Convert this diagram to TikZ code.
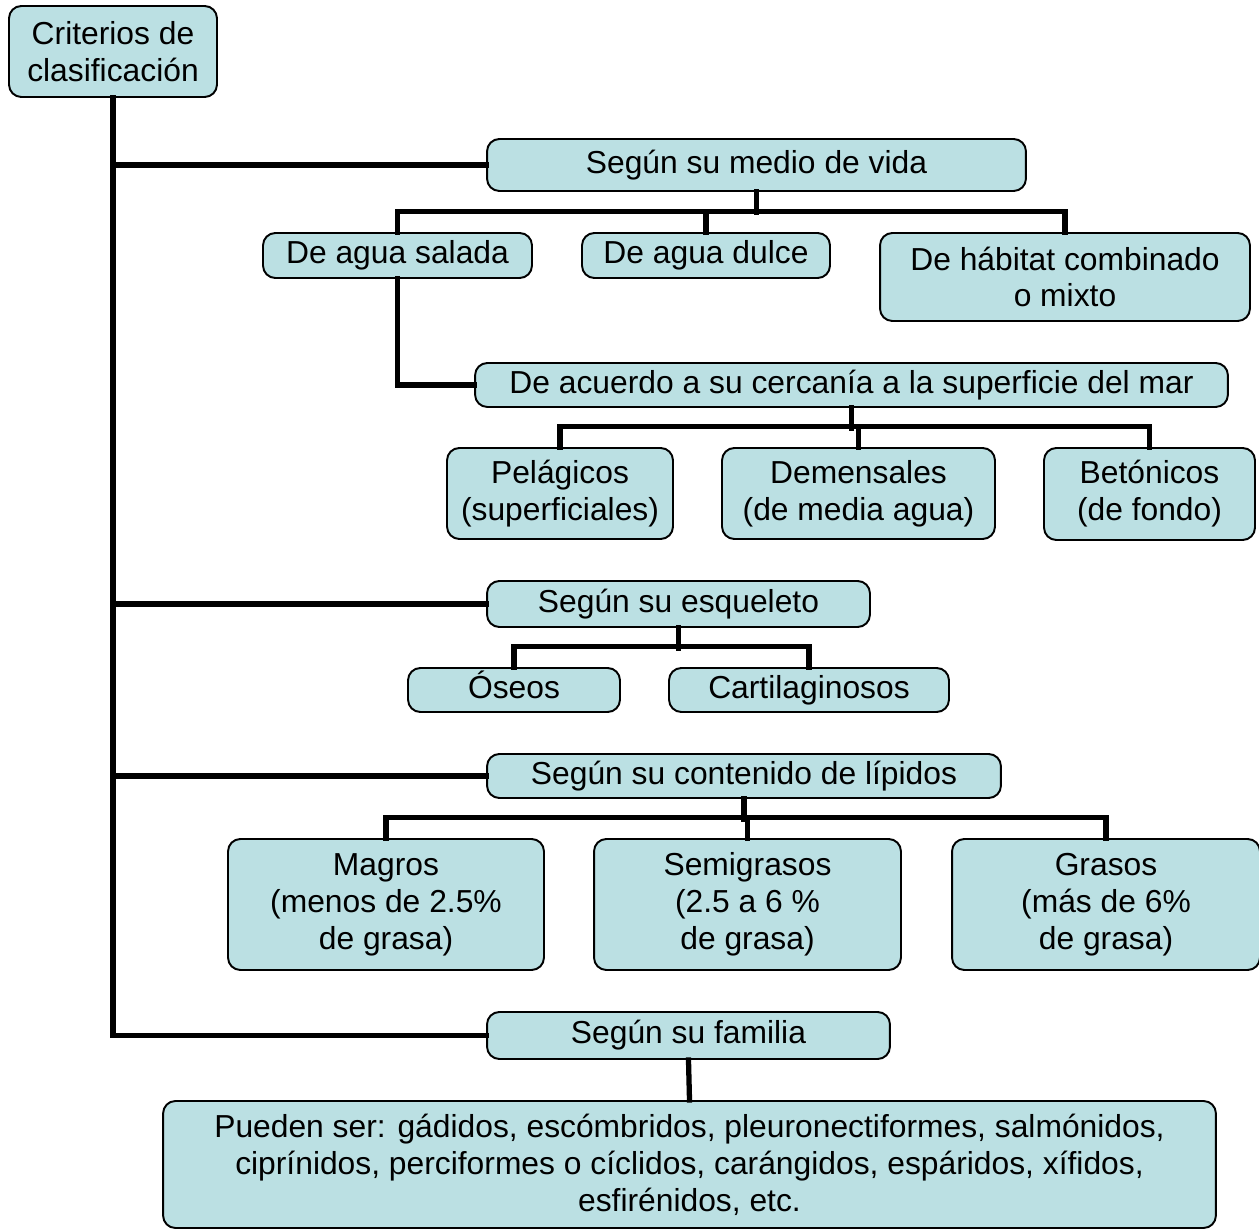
\documentclass[tikz,border=0pt]{standalone}
\usepackage{fontspec}
\setmainfont{Liberation Sans}
\usepackage{tikz}
\definecolor{celeste}{HTML}{BBE0E3}

\begin{document}
\begin{tikzpicture}[x=0.02cm, y=-0.02cm,
	caja/.style={draw=black, fill=celeste, line width=1.1pt, rounded corners=7pt,
		inner sep=0pt, align=center, font=\fontsize{18.1}{21}\selectfont},
	unalinea/.style={text height=13pt, text depth=3.8pt},
	linea/.style={line width=3pt, line cap=rect}]
		%%%%% START %%%%%
		\useasboundingbox (0, 0) rectangle (1259, 1229);
		
		\node[caja, minimum width=4.16cm, minimum height=1.82cm] (crit) at (113, 51.5) {Criterios de\\clasificación};
		
		% segun su medio de vida
		\node[caja, unalinea, minimum width=10.78cm, minimum height=1.04cm] (medio) at (756.5, 165) {Según su medio de vida};
		\node[caja, unalinea, minimum width=5.38cm, minimum height=0.9cm] (salada) at (397.5, 255.5) {De agua salada};
		\node[caja, unalinea, minimum width=4.96cm, minimum height=0.9cm] (dulce) at (706, 255.5) {De agua dulce};
		\node[caja, minimum width=7.4cm, minimum height=1.76cm] (mixto) at (1065, 277) {De hábitat combinado\\o mixto};
		\node[caja, unalinea, minimum width=15.06cm, minimum height=0.88cm] (cerca) at (851.5, 385) {De acuerdo a su cercanía a la superficie del mar};
		\node[caja, minimum width=4.52cm, minimum height=1.82cm] (pelag) at (560, 493.5) {Pelágicos\\(superficiales)};
		\node[caja, minimum width=5.46cm, minimum height=1.82cm] (demen) at (858.5, 493.5) {Demensales\\(de media agua)};
		\node[caja, minimum width=4.22cm, minimum height=1.84cm] (beton) at (1149.5, 494) {Betónicos\\(de fondo)};
		
		% segun su esqueleto
		\node[caja, unalinea, minimum width=7.66cm, minimum height=0.92cm] (esque) at (678.5, 604) {Según su esqueleto};
		\node[caja, unalinea, minimum width=4.24cm, minimum height=0.88cm] (oseos) at (514, 690) {Óseos};
		\node[caja, unalinea, minimum width=5.6cm, minimum height=0.88cm] (cartil) at (809, 690) {Cartilaginosos};
		
		% segun su contenido de lipidos
		\node[caja, unalinea, minimum width=10.28cm, minimum height=0.88cm] (lipid) at (744, 776) {Según su contenido de lípidos};
		\node[caja, minimum width=6.32cm, minimum height=2.62cm] (magros) at (386, 904.5) {Magros\\(menos de 2.5\%\\de grasa)};
		\node[caja, minimum width=6.14cm, minimum height=2.62cm] (semi) at (747.5, 904.5) {Semigrasos\\(2.5 a 6 \%\\de grasa)};
		\node[caja, minimum width=6.16cm, minimum height=2.62cm] (grasos) at (1106, 904.5) {Grasos\\(más de 6\%\\de grasa)};
		
		% segun su familia
		\node[caja, unalinea, minimum width=8.06cm, minimum height=0.94cm] (famil) at (688.5, 1035.5) {Según su familia};
		\node[caja, minimum width=21.06cm, minimum height=2.54cm] (pueden) at (689.5, 1164.5) {Pueden ser: gádidos, escómbridos, pleuronectiformes, salmónidos,\\ciprínidos, perciformes o cíclidos, carángidos, espáridos, xífidos,\\esfirénidos, etc.};
		
		% tronco principal
		\draw[linea] (crit.south) |- (famil.west);
		\draw[linea] (crit.south |- medio.west) -- (medio.west);
		\draw[linea] (crit.south |- esque.west) -- (esque.west);
		\draw[linea] (crit.south |- lipid.west) -- (lipid.west);
		
		\draw[linea] (medio.south) -- ++(0, 20.5);
		\draw[linea] (salada.north) -- ++(0, -20.5) -| (mixto.north);
		\draw[linea] (dulce.north) -- ++(0, -20.5);
		\draw[linea] (salada.south) |- (cerca.west);
		
		\draw[linea] (cerca.south) -- ++(0, 20.5);
		\draw[linea] (pelag.north) -- ++(0, -20.5) -| (beton.north);
		\draw[linea] (demen.north) -- ++(0, -20.5);
		
		\draw[linea] (esque.south) -- ++(0, 20.5);
		\draw[linea] (oseos.north) -- ++(0, -20.5) -| (cartil.north);
		
		\draw[linea] (lipid.south) -- ++(0, 20.5);
		\draw[linea] (magros.north) -- ++(0, -20.5) -| (grasos.north);
		\draw[linea] (semi.north) -- ++(0, -20.5);
		
		\draw[linea] (famil.south) -- (pueden.north);
		
		%%%%% END %%%%%
	\end{tikzpicture}
\end{document}
